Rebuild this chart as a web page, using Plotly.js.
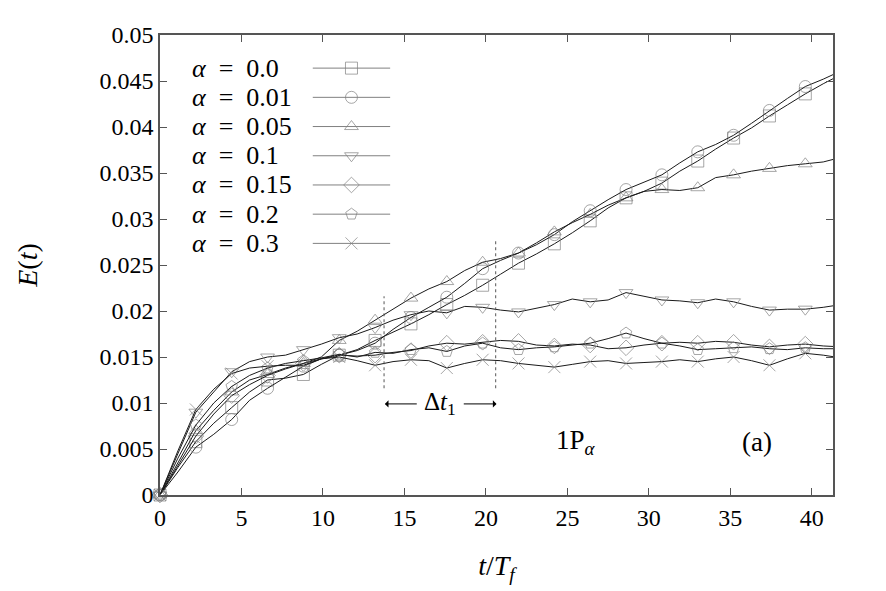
<!DOCTYPE html>
<html>
<head>
<meta charset="utf-8">
<script src="https://cdn.plot.ly/plotly-3.0.1.min.js"></script>
<style>html,body{margin:0;padding:0;background:#fff;}#chart{width:886px;height:591px;}
#chart text{font-family:"Liberation Serif","Times New Roman",serif !important;}</style>
</head>
<body>
<div id="chart"></div>
<script>
// time axis t/T_f
const t = [0,1.1,2.2,3.3,4.4,5.5,6.6,7.7,8.8,9.9,11,12.1,13.2,14.3,15.4,16.5,17.6,18.7,19.8,20.9,22,23.1,24.2,25.3,26.4,27.5,28.6,29.7,30.8,31.9,33,34.1,35.2,36.3,37.4,38.5,39.6,40.7,41.8];

const alphaLabels = ["0.0","0.01","0.05","0.1","0.15","0.2","0.3"];

const E_a000 = [0,0.0030,0.0058,0.0078,0.0095,0.0112,0.0125,0.0127,0.0131,0.0142,0.0152,0.0158,0.0168,0.0177,0.0186,0.0196,0.0207,0.0217,0.0228,0.0240,0.0252,0.0262,0.0273,0.0285,0.0298,0.0312,0.0323,0.0330,0.0339,0.0352,0.0363,0.0376,0.0388,0.0399,0.0412,0.0424,0.0436,0.0447,0.0457];
const E_a001 = [0,0.0025,0.0052,0.0066,0.0082,0.0103,0.0116,0.0128,0.0140,0.0148,0.0152,0.0157,0.0165,0.0180,0.0193,0.0204,0.0215,0.0230,0.0246,0.0255,0.0263,0.0272,0.0283,0.0297,0.0309,0.0321,0.0332,0.0340,0.0348,0.0361,0.0373,0.0381,0.0391,0.0404,0.0418,0.0431,0.0444,0.0452,0.0461];
const E_a005 = [0,0.0035,0.0070,0.0092,0.0112,0.0125,0.0131,0.0138,0.0143,0.0150,0.0168,0.0178,0.0190,0.0202,0.0214,0.0224,0.0232,0.0244,0.0253,0.0257,0.0263,0.0274,0.0286,0.0296,0.0305,0.0315,0.0323,0.0330,0.0332,0.0331,0.0334,0.0345,0.0348,0.0352,0.0355,0.0358,0.0360,0.0362,0.0367];
const E_a010 = [0,0.0045,0.0090,0.0112,0.0134,0.0145,0.0150,0.0152,0.0158,0.0164,0.0171,0.0175,0.0182,0.0190,0.0196,0.0200,0.0198,0.0205,0.0204,0.0201,0.0199,0.0203,0.0207,0.0213,0.0210,0.0212,0.0220,0.0216,0.0212,0.0211,0.0209,0.0213,0.0210,0.0205,0.0201,0.0202,0.0202,0.0204,0.0207];
const E_a015 = [0,0.0032,0.0064,0.0088,0.0108,0.0120,0.0130,0.0137,0.0143,0.0148,0.0152,0.0151,0.0152,0.0155,0.0157,0.0162,0.0165,0.0164,0.0166,0.0168,0.0167,0.0163,0.0162,0.0164,0.0163,0.0159,0.0160,0.0163,0.0165,0.0166,0.0165,0.0167,0.0166,0.0163,0.0161,0.0163,0.0164,0.0162,0.0161];
const E_a020 = [0,0.0040,0.0076,0.0100,0.0118,0.0130,0.0138,0.0143,0.0146,0.0149,0.0153,0.0150,0.0155,0.0154,0.0158,0.0160,0.0156,0.0162,0.0165,0.0160,0.0158,0.0160,0.0161,0.0163,0.0165,0.0170,0.0176,0.0170,0.0165,0.0162,0.0158,0.0159,0.0160,0.0161,0.0159,0.0158,0.0160,0.0159,0.0159];
const E_a030 = [0,0.0048,0.0093,0.0115,0.0132,0.0138,0.0140,0.0141,0.0141,0.0148,0.0150,0.0146,0.0141,0.0145,0.0147,0.0146,0.0138,0.0143,0.0147,0.0146,0.0143,0.0141,0.0139,0.0142,0.0145,0.0146,0.0143,0.0144,0.0145,0.0147,0.0145,0.0148,0.0150,0.0146,0.0141,0.0148,0.0154,0.0152,0.0149];

const xTickVals = [0,5,10,15,20,25,30,35,40];
const yTickVals = [0,0.005,0.01,0.015,0.02,0.025,0.03,0.035,0.04,0.045,0.05];
const yTickText = ["0","0.005","0.01","0.015","0.02","0.025","0.03","0.035","0.04","0.045","0.05"];

const series = [E_a000,E_a001,E_a005,E_a010,E_a015,E_a020,E_a030];
const symbols = ["square-open","circle-open","triangle-up-open","triangle-down-open","diamond-open","pentagon-open","x-thin-open"];

const FONT = "Liberation Serif";
const markerColor = "#808080";
const lineColor = "#1a1a1a";
const msize = 12;

// markers every second sample (every 2.2 time units), up to t = 39.6
const sizes = t.map((v, k) => (k % 2 === 0 && v < 40) ? msize : 0);

const traces = [];
series.forEach((ys, i) => {
  traces.push({
    x: t, y: ys, type: "scatter", mode: "lines+markers",
    line: {color: lineColor, width: 1},
    marker: {symbol: symbols[i], size: sizes, color: markerColor, line: {color: markerColor, width: 1}},
    cliponaxis: false, showlegend: false, hoverinfo: "skip"
  });
});

// custom key (text left, sample right), drawn on an overlay axis in plot fractions
const keyTop = 0.928, keyStep = 0.0635;
const keyX0 = 0.227, keyX1 = 0.342;
const annotations = [];
alphaLabels.forEach((lab, i) => {
  const yy = keyTop - i * keyStep;
  traces.push({
    x: [keyX0, (keyX0 + keyX1) / 2, keyX1], y: [yy, yy, yy],
    xaxis: "x2", yaxis: "y2", type: "scatter", mode: "lines+markers",
    line: {color: markerColor, width: 1},
    marker: {symbol: symbols[i], size: [0, msize, 0], color: markerColor, line: {color: markerColor, width: 1}},
    showlegend: false, hoverinfo: "skip", cliponaxis: false
  });
  annotations.push({
    xref: "paper", yref: "paper", x: 0.045, y: yy, xanchor: "left", yanchor: "middle",
    text: "<i>α</i>\u2002=\u2002" + lab, showarrow: false,
    font: {family: FONT, size: 26, color: "#000"}
  });
});

// Δt1 arrows and labels
annotations.push({x: 13.8, y: 0.0099, ax: 15.85, ay: 0.0099, axref: "x", ayref: "y", xref: "x", yref: "y",
  text: "", showarrow: true, arrowhead: 1, arrowsize: 1.2, arrowwidth: 1, arrowcolor: "#000"});
annotations.push({x: 20.65, y: 0.0099, ax: 18.55, ay: 0.0099, axref: "x", ayref: "y", xref: "x", yref: "y",
  text: "", showarrow: true, arrowhead: 1, arrowsize: 1.2, arrowwidth: 1, arrowcolor: "#000"});
annotations.push({x: 17.2, y: 0.0099, xref: "x", yref: "y", text: "Δ<i>t</i><sub>1</sub>", showarrow: false,
  font: {family: FONT, size: 25, color: "#000"}});
annotations.push({x: 25.55, y: 0.0058, xref: "x", yref: "y", text: "1P<sub><i>α</i></sub>", showarrow: false,
  font: {family: FONT, size: 27, color: "#000"}});
annotations.push({x: 36.65, y: 0.0058, xref: "x", yref: "y", text: "(a)", showarrow: false,
  font: {family: FONT, size: 27, color: "#000"}});

const shapes = [
  {type: "line", xref: "x", yref: "y", x0: 13.75, x1: 13.75, y0: 0.0116, y1: 0.0216, line: {color: "#555", width: 1, dash: "dot"}},
  {type: "line", xref: "x", yref: "y", x0: 20.6, x1: 20.6, y0: 0.0116, y1: 0.0277, line: {color: "#555", width: 1, dash: "dot"}}
];

const axisCommon = {
  showgrid: false, zeroline: false, showline: true, linecolor: "#555", linewidth: 1.5,
  mirror: "ticks", ticks: "inside", ticklen: 7, tickwidth: 1, tickcolor: "#555",
  tickfont: {family: FONT, size: 24, color: "#000"}
};

const layout = {
  width: 886, height: 591,
  margin: {l: 160, r: 53, t: 35, b: 96},
  paper_bgcolor: "#fff", plot_bgcolor: "#fff",
  font: {family: FONT, color: "#000"},
  showlegend: false,
  xaxis: Object.assign({}, axisCommon, {
    range: [0, 41.3], tickvals: xTickVals,
    title: {text: "<i>t</i>/<i>T</i><sub><i>f</i></sub>", font: {family: FONT, size: 28, color: "#000"}, standoff: 26}
  }),
  yaxis: Object.assign({}, axisCommon, {
    range: [0, 0.05], tickvals: yTickVals, ticktext: yTickText,
    title: {text: "<i>E</i>(<i>t</i>)", font: {family: FONT, size: 28, color: "#000"}, standoff: 54}
  }),
  xaxis2: {overlaying: "x", anchor: "y2", range: [0, 1], visible: false, fixedrange: true},
  yaxis2: {overlaying: "y", anchor: "x2", range: [0, 1], visible: false, fixedrange: true},
  annotations: annotations,
  shapes: shapes
};

Plotly.newPlot("chart", traces, layout, {displayModeBar: false});
</script>
</body>
</html>
